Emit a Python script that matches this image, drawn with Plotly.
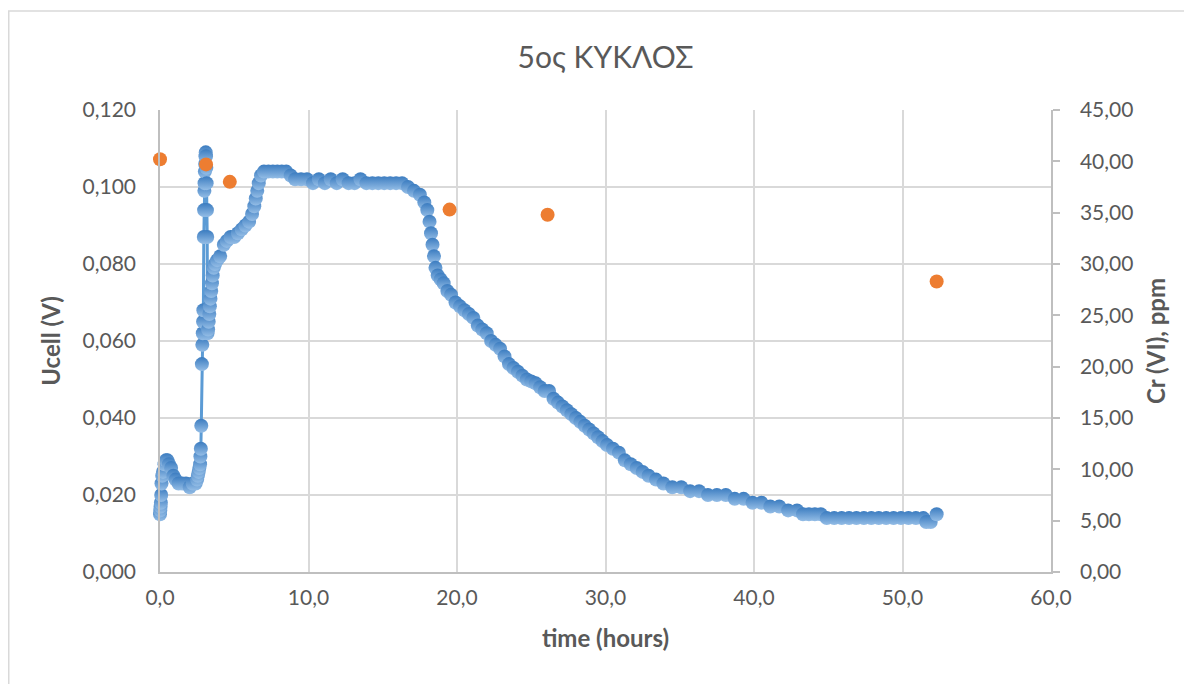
import plotly.graph_objects as go

# ---- data ----
time_h = [
    0.00, 0.02, 0.04, 0.06, 0.08, 0.10, 0.15, 0.20, 0.30, 0.40, 0.50, 0.60, 0.75, 0.90,
    1.05, 1.25, 1.50, 1.75, 2.00, 2.20, 2.40, 2.50, 2.55, 2.60, 2.65, 2.70, 2.72, 2.75,
    2.78, 2.82, 2.85, 2.88, 2.90, 2.92, 2.95, 2.97, 2.99, 3.00, 3.02, 3.04, 3.06, 3.08,
    3.10, 3.12, 3.14, 3.16, 3.18, 3.20, 3.24, 3.28, 3.32, 3.36, 3.40, 3.45, 3.50, 3.55,
    3.62, 3.70, 3.85, 4.05, 4.30, 4.50, 4.75, 5.00, 5.25, 5.50, 5.75, 6.00, 6.20, 6.35,
    6.45, 6.55, 6.65, 6.80, 7.00, 7.30, 7.60, 7.90, 8.20, 8.50, 8.80, 9.10, 9.50, 9.90,
    10.3, 10.7, 11.1, 11.5, 11.9, 12.3, 12.7, 13.1, 13.5, 13.9, 14.3, 14.7, 15.1, 15.5,
    15.9, 16.3, 16.7, 17.1, 17.5, 17.8, 18.0, 18.15, 18.25, 18.35, 18.45, 18.55, 18.7,
    18.9, 19.1, 19.35, 19.6, 19.9, 20.2, 20.5, 20.8, 21.1, 21.4, 21.7, 22.0, 22.3, 22.6,
    22.9, 23.2, 23.5, 23.8, 24.1, 24.4, 24.7, 25.0, 25.3, 25.6, 25.9, 26.2, 26.5, 26.8,
    27.1, 27.4, 27.7, 28.0, 28.3, 28.6, 28.9, 29.2, 29.5, 29.8, 30.1, 30.5, 30.9, 31.3,
    31.7, 32.1, 32.5, 32.9, 33.4, 33.9, 34.5, 35.1, 35.7, 36.3, 36.9, 37.5, 38.1, 38.7,
    39.3, 39.9, 40.5, 41.1, 41.7, 42.3, 42.9, 43.3, 43.7, 44.1, 44.5, 44.9, 45.4, 45.9,
    46.4, 46.9, 47.4, 47.9, 48.4, 48.9, 49.4, 49.9, 50.4, 50.9, 51.4, 51.6, 51.9, 52.3,
]
ucell_v = [
    0.015, 0.016, 0.017, 0.018, 0.020, 0.023, 0.025, 0.026, 0.028, 0.029, 0.029, 0.028, 0.027, 0.025,
    0.024, 0.023, 0.023, 0.023, 0.022, 0.023, 0.023, 0.024, 0.025, 0.026, 0.027, 0.028, 0.030, 0.032,
    0.038, 0.054, 0.059, 0.062, 0.065, 0.068, 0.087, 0.094, 0.099, 0.101, 0.104, 0.106, 0.108, 0.109,
    0.108, 0.105, 0.101, 0.094, 0.087, 0.062, 0.063, 0.065, 0.067, 0.069, 0.071, 0.073, 0.075, 0.077,
    0.079, 0.080, 0.081, 0.082, 0.085, 0.086, 0.087, 0.087, 0.088, 0.089, 0.090, 0.091, 0.093, 0.095,
    0.097, 0.099, 0.101, 0.103, 0.104, 0.104, 0.104, 0.104, 0.104, 0.104, 0.103, 0.102, 0.102, 0.102,
    0.101, 0.102, 0.101, 0.102, 0.101, 0.102, 0.101, 0.101, 0.102, 0.101, 0.101, 0.101, 0.101, 0.101,
    0.101, 0.101, 0.100, 0.099, 0.098, 0.096, 0.094, 0.091, 0.088, 0.085, 0.082, 0.079, 0.077,
    0.076, 0.075, 0.073, 0.072, 0.070, 0.069, 0.068, 0.067, 0.066, 0.064, 0.063, 0.062, 0.060, 0.059,
    0.058, 0.056, 0.054, 0.053, 0.052, 0.051, 0.050, 0.0495, 0.049, 0.048, 0.047, 0.047, 0.045, 0.044,
    0.043, 0.042, 0.041, 0.040, 0.039, 0.038, 0.037, 0.036, 0.035, 0.034, 0.033, 0.032, 0.031, 0.029,
    0.028, 0.027, 0.026, 0.025, 0.024, 0.023, 0.022, 0.022, 0.021, 0.021, 0.020, 0.020, 0.020, 0.019,
    0.019, 0.018, 0.018, 0.017, 0.017, 0.016, 0.016, 0.015, 0.015, 0.015, 0.015, 0.014, 0.014, 0.014,
    0.014, 0.014, 0.014, 0.014, 0.014, 0.014, 0.014, 0.014, 0.014, 0.014, 0.014, 0.013, 0.013, 0.015,
]

cr_time_h = [0.0, 3.1, 4.7, 19.5, 26.1, 52.3]
cr_ppm = [40.2, 39.7, 38.0, 35.3, 34.8, 28.3]

title_text = "5ος ΚΥΚΛΟΣ"
x_title = "time (hours)"
y_title = "Ucell (V)"
y2_title = "Cr (VI), ppm"

FONT = "Lato"
TXT = "#595959"
AXIS = "#bfbfbf"
GRID = "#d9d9d9"

# plot area in figure pixels (page adds an 8px body margin)
L, T, PW, PH = 152, 102, 891, 462
W, H = 1192, 684

fig = go.Figure()
fig.add_trace(go.Scatter(
    x=time_h, y=ucell_v, mode="lines+markers", name="Ucell",
    line=dict(color="#5B9BD5", width=3),
    marker=dict(size=14, color="#3b7cc0",
                gradient=dict(type="vertical", color="#94bde6"),
                line=dict(width=0)),
    cliponaxis=False,
))
fig.add_trace(go.Scatter(
    x=cr_time_h, y=cr_ppm, mode="markers", name="Cr (VI)", yaxis="y2",
    marker=dict(size=14, color="#ED7D31", line=dict(width=0)),
    cliponaxis=False,
))

fig.update_layout(
    width=W, height=H,
    margin=dict(l=L, r=W - L - PW, t=T, b=H - T - PH),
    paper_bgcolor="white", plot_bgcolor="white",
    separators=",.",
    showlegend=False,
    font=dict(family=FONT, color=TXT, size=21),
    title=dict(text=title_text, x=0.5, xref="paper", xanchor="center",
               y=1 - 49 / H, yref="container", yanchor="middle",
               font=dict(family=FONT, size=30, color=TXT)),
    xaxis=dict(range=[0, 60], dtick=10, tick0=0, tickformat=".1f",
               showline=True, linecolor=AXIS, linewidth=1.5,
               showgrid=True, gridcolor=GRID, gridwidth=1.5, zeroline=False,
               ticks="", ticklabelstandoff=6,
               title=dict(text="<b>" + x_title + "</b>", standoff=22,
                          font=dict(family=FONT, size=24, color=TXT))),
    yaxis=dict(range=[0, 0.12], dtick=0.02, tick0=0, tickformat=".3f",
               showline=True, linecolor=AXIS, linewidth=1.5,
               showgrid=True, gridcolor=GRID, gridwidth=1.5, zeroline=False,
               ticks="", ticklabelstandoff=18,
               title=dict(text="<b>" + y_title + "</b>", standoff=15,
                          font=dict(family=FONT, size=24, color=TXT))),
    yaxis2=dict(range=[0, 45], dtick=5, tick0=0, tickformat=".2f",
                overlaying="y", side="right",
                showline=True, linecolor=AXIS, linewidth=1.5,
                showgrid=False, zeroline=False,
                ticks="outside", ticklen=7, tickcolor=AXIS, tickwidth=1.5,
                ticklabelstandoff=16,
                title=dict(text="<b>" + y2_title + "</b>", standoff=16,
                           font=dict(family=FONT, size=24, color=TXT))),
    shapes=[dict(type="rect", xref="paper", yref="paper",
                 x0=(0.75 - L) / PW, x1=(W + 10 - L) / PW,
                 y0=(T + PH - H - 10) / PH, y1=(T + PH - 3) / PH,
                 line=dict(color=GRID, width=1.5), fillcolor="rgba(0,0,0,0)",
                 layer="below")],
)

fig.write_html("out.html")
